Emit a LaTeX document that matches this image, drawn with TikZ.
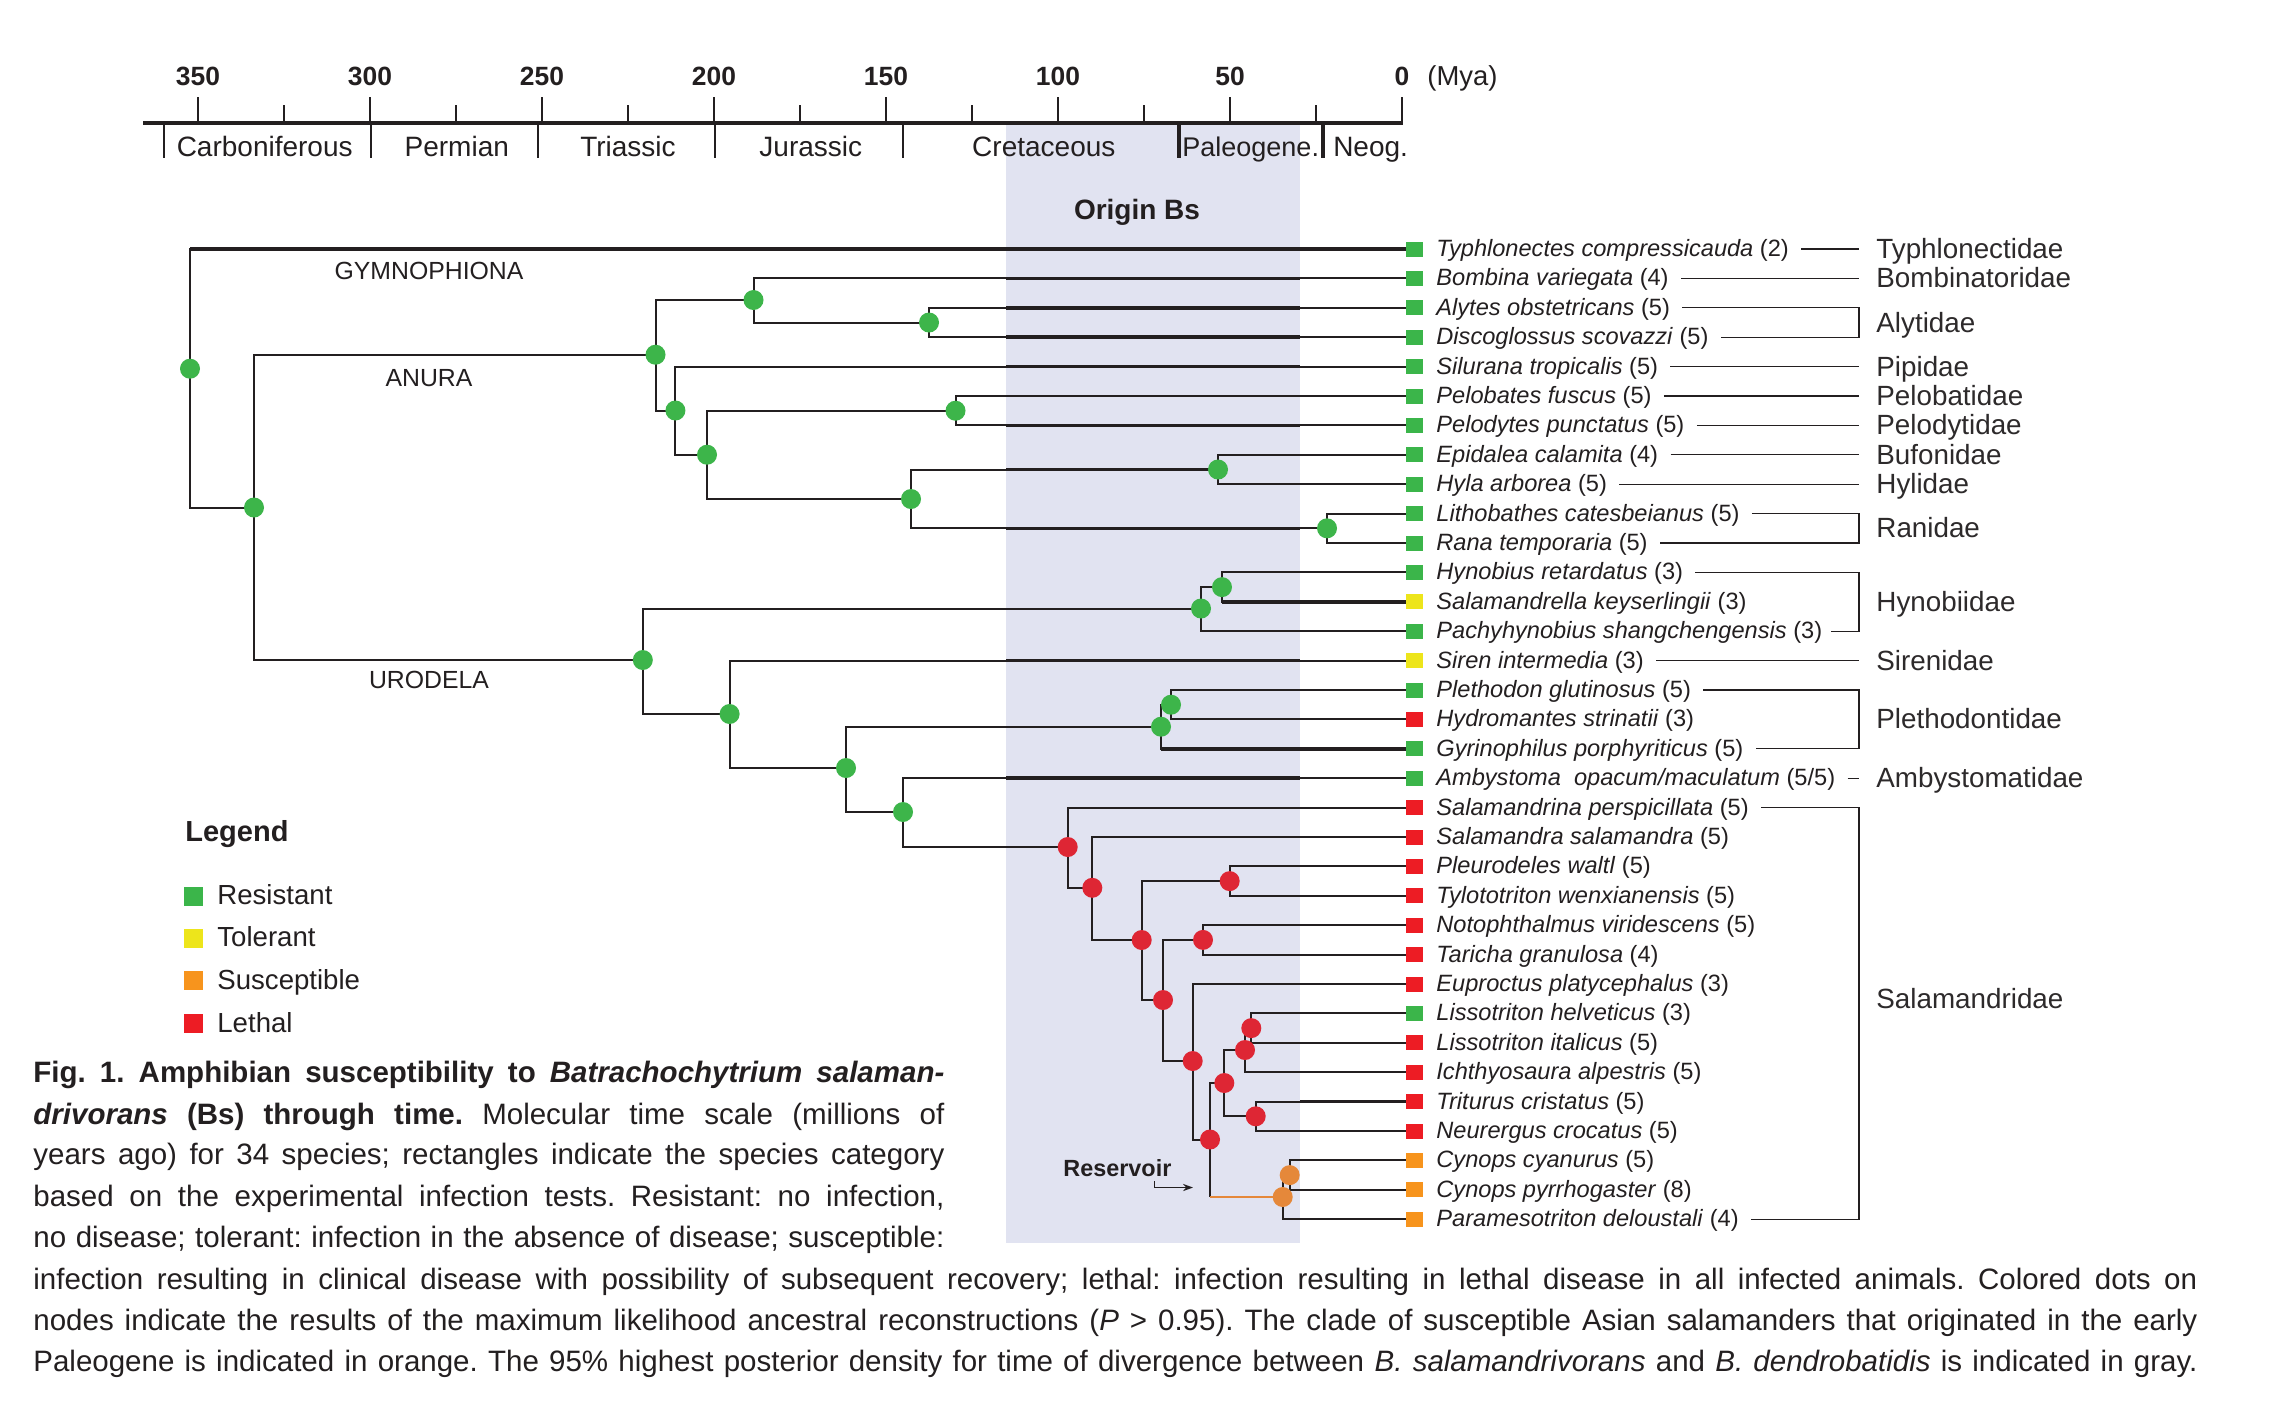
\documentclass[tikz,border=0pt]{standalone}
\usepackage{fontspec}
\setmainfont{Liberation Sans}
\usetikzlibrary{arrows.meta,calc}
\definecolor{bandc}{RGB}{225,227,241}
\definecolor{ink}{RGB}{35,31,32}
\definecolor{gsq}{RGB}{59,181,74}
\definecolor{ysq}{RGB}{237,229,27}
\definecolor{osq}{RGB}{247,148,29}
\definecolor{rsq}{RGB}{237,28,36}
\definecolor{gdotc}{RGB}{61,181,74}
\definecolor{rdotc}{RGB}{222,38,52}
\definecolor{odotc}{RGB}{229,136,58}
\definecolor{famc}{RGB}{45,42,43}
\newcommand\fs[1]{\fontsize{#1pt}{#1pt}\selectfont}
\newcommand\leaf[4]{\node[sq,fill=#3] (s#1) at (1414.5,#2) {};
  \node[sp] (t#1) at (1436,#2+7.5) {#4};}
\newcommand\famline[1]{\draw[fl] ($(t#1.east|-s#1)+(12,0)$) -- (fx|-s#1);}
\frenchspacing
\begin{document}
\begin{tikzpicture}[x=0.5pt,y=-0.5pt,
  br/.style={draw=ink,line width=1pt},
  thk/.style={draw=ink,line width=1.8pt},
  orl/.style={draw=odotc,line width=0.9pt},
  fl/.style={draw=ink,line width=0.65pt},
  tickl/.style={draw=ink,line width=1.3pt},
  dg/.style={circle,fill=gdotc,inner sep=0pt,minimum size=10pt},
  dr/.style={circle,fill=rdotc,inner sep=0pt,minimum size=10pt},
  do/.style={circle,fill=odotc,inner sep=0pt,minimum size=10pt},
  sq/.style={rectangle,inner sep=0pt,minimum width=8.5pt,minimum height=7.5pt},
  lsq/.style={rectangle,inner sep=0pt,minimum size=9.5pt},
  sp/.style={anchor=base west,inner sep=0pt,font=\fs{11.8},text=ink},
  fam/.style={anchor=base west,inner sep=0pt,font=\fs{13.9},text=famc},
  clade/.style={anchor=base,inner sep=0pt,font=\fs{12.4},text=ink},
  num/.style={anchor=base,inner sep=0pt,font=\fs{13.2}\bfseries,text=ink},
  per/.style={anchor=base,inner sep=0pt,font=\fs{14},text=ink},
  legt/.style={anchor=base west,inner sep=0pt,font=\fs{13.8},text=ink},
  capt/.style={anchor=base west,inner sep=0pt,font=\fs{14.75},text=ink}]
\fill[white] (0,0) rectangle (2279,1404);
\useasboundingbox (0,0) rectangle (2279,1404);
% band
\fill[bandc] (1006,125) rectangle (1300,1243);
\node[anchor=base,inner sep=0pt,font=\fs{14}\bfseries,text=ink] (origin) at (1137,219) {Origin Bs};
% axis
\draw[ink,line width=1.7pt] (143,123) -- (1403,123);
\foreach \t in {0,50,...,350}{
  \draw[tickl] ({1402-3.44*\t},97) -- ({1402-3.44*\t},123);
  \node[num] (n\t) at ({1402-3.44*\t},85) {\t};}
\foreach \t in {25,75,...,325}{
  \draw[tickl] ({1402-3.44*\t},105) -- ({1402-3.44*\t},123);}
\node[anchor=base west,inner sep=0pt,font=\fs{13.7},text=ink] (mya) at (1427,85) {(Mya)};
\foreach \x in {164,371,538,715,903}{\draw[tickl] (\x,123) -- (\x,158);}
\draw[ink,line width=2pt] (1179,123) -- (1179,158);
\draw[ink,line width=2pt] (1323,123) -- (1323,158);
\node[per] (pc) at (264.7,156.5) {Carboniferous};
\node[per] (pp) at (456.8,156.5) {Permian};
\node[per] (pt) at (628,156.5) {Triassic};
\node[per] (pj) at (810.8,156.5) {Jurassic};
\node[per] (pk) at (1043.8,156.5) {Cretaceous};
\node[per,anchor=base west,font=\fs{13.5}] (pg) at (1182,156.5) {Paleogene.};
\node[per] (pn) at (1370.6,156.5) {Neog.};
% leaves
\leaf{0}{249}{gsq}{\textit{Typhlonectes compressicauda} (2)}
\leaf{1}{278.4}{gsq}{\textit{Bombina variegata} (4)}
\leaf{2}{307.8}{gsq}{\textit{Alytes obstetricans} (5)}
\leaf{3}{337.2}{gsq}{\textit{Discoglossus scovazzi} (5)}
\leaf{4}{366.6}{gsq}{\textit{Silurana tropicalis} (5)}
\leaf{5}{396}{gsq}{\textit{Pelobates fuscus} (5)}
\leaf{6}{425.4}{gsq}{\textit{Pelodytes punctatus} (5)}
\leaf{7}{454.8}{gsq}{\textit{Epidalea calamita} (4)}
\leaf{8}{484.2}{gsq}{\textit{Hyla arborea} (5)}
\leaf{9}{513.6}{gsq}{\textit{Lithobathes catesbeianus} (5)}
\leaf{10}{543}{gsq}{\textit{Rana temporaria} (5)}
\leaf{11}{572.4}{gsq}{\textit{Hynobius retardatus} (3)}
\leaf{12}{601.8}{ysq}{\textit{Salamandrella keyserlingii} (3)}
\leaf{13}{631.2}{gsq}{\textit{Pachyhynobius shangchengensis} (3)}
\leaf{14}{660.6}{ysq}{\textit{Siren intermedia} (3)}
\leaf{15}{690}{gsq}{\textit{Plethodon glutinosus} (5)}
\leaf{16}{719.4}{rsq}{\textit{Hydromantes strinatii} (3)}
\leaf{17}{748.8}{gsq}{\textit{Gyrinophilus porphyriticus} (5)}
\leaf{18}{778.2}{gsq}{\textit{Ambystoma\ \ opacum/maculatum} (5/5)}
\leaf{19}{807.6}{rsq}{\textit{Salamandrina perspicillata} (5)}
\leaf{20}{837}{rsq}{\textit{Salamandra salamandra} (5)}
\leaf{21}{866.4}{rsq}{\textit{Pleurodeles waltl} (5)}
\leaf{22}{895.8}{rsq}{\textit{Tylototriton wenxianensis} (5)}
\leaf{23}{925.2}{rsq}{\textit{Notophthalmus viridescens} (5)}
\leaf{24}{954.6}{rsq}{\textit{Taricha granulosa} (4)}
\leaf{25}{984}{rsq}{\textit{Euproctus platycephalus} (3)}
\leaf{26}{1013.4}{gsq}{\textit{Lissotriton helveticus} (3)}
\leaf{27}{1042.8}{rsq}{\textit{Lissotriton italicus} (5)}
\leaf{28}{1072.2}{rsq}{\textit{Ichthyosaura alpestris} (5)}
\leaf{29}{1101.6}{rsq}{\textit{Triturus cristatus} (5)}
\leaf{30}{1131}{rsq}{\textit{Neurergus crocatus} (5)}
\leaf{31}{1160.4}{osq}{\textit{Cynops cyanurus} (5)}
\leaf{32}{1189.8}{osq}{\textit{Cynops pyrrhogaster} (8)}
\leaf{33}{1219.2}{osq}{\textit{Paramesotriton deloustali} (4)}
% families
\coordinate (fx) at (1859,0);
\foreach \i in {0,1,4,5,6,7,8,14,18}{\famline{\i}}
\draw[fl] ($(t2.east|-s2)+(12,0)$) -- (fx|-s2) -- (fx|-s3) -- ($(t3.east|-s3)+(12,0)$);
\draw[fl] ($(t9.east|-s9)+(12,0)$) -- (fx|-s9) -- (fx|-s10) -- ($(t10.east|-s10)+(12,0)$);
\draw[fl] ($(t11.east|-s11)+(12,0)$) -- (fx|-s11) -- (fx|-s13) -- ($(t13.east|-s13)+(8,0)$);
\draw[fl] ($(t15.east|-s15)+(12,0)$) -- (fx|-s15) -- (fx|-s17) -- ($(t17.east|-s17)+(12,0)$);
\draw[fl] ($(t19.east|-s19)+(12,0)$) -- (fx|-s19) -- (fx|-s33) -- ($(t33.east|-s33)+(12,0)$);
\node[fam] (f0) at (1876,258.5) {Typhlonectidae};
\node[fam] (f1) at (1876,287.9) {Bombinatoridae};
\node[fam] (f2) at (1876,332) {Alytidae};
\node[fam] (f4) at (1876,376.1) {Pipidae};
\node[fam] (f5) at (1876,405.5) {Pelobatidae};
\node[fam] (f6) at (1876,434.9) {Pelodytidae};
\node[fam] (f7) at (1876,464.3) {Bufonidae};
\node[fam] (f8) at (1876,493.7) {Hylidae};
\node[fam] (f9) at (1876,537.8) {Ranidae};
\node[fam] (f11) at (1876,611.3) {Hynobiidae};
\node[fam] (f14) at (1876,670.1) {Sirenidae};
\node[fam] (f15) at (1876,728.9) {Plethodontidae};
\node[fam] (f18) at (1876,787.7) {Ambystomatidae};
\node[fam] (f19) at (1876,1008) {Salamandridae};
% internal nodes
\coordinate (root) at (190,368.7);
\coordinate (batr) at (254,507.5);
\coordinate (anura) at (655.5,354.7);
\coordinate (a1) at (753.5,300);
\coordinate (aly) at (929,322.5);
\coordinate (a2) at (675.4,410.5);
\coordinate (a3) at (707,454.7);
\coordinate (pel) at (955.5,410.7);
\coordinate (a4) at (911,499);
\coordinate (buf) at (1218,469.5);
\coordinate (ran) at (1327,528.3);
\coordinate (uro) at (642.8,660);
\coordinate (hyn) at (1201,608.5);
\coordinate (h1) at (1222,587.1);
\coordinate (u1) at (729.6,714);
\coordinate (u2) at (846,768);
\coordinate (pl) at (1161,726.7);
\coordinate (p1) at (1171,704.7);
\coordinate (u3) at (903,812);
\coordinate (sal) at (1067.7,847);
\coordinate (sa1) at (1092.3,887.8);
\coordinate (sa2) at (1141.7,940);
\coordinate (sa3) at (1229.7,881.1);
\coordinate (sa4) at (1163,1000);
\coordinate (sa5) at (1203,939.9);
\coordinate (sa6) at (1192.7,1061);
\coordinate (sa7) at (1210,1139.5);
\coordinate (sa8) at (1224.3,1083);
\coordinate (sa9) at (1245,1050);
\coordinate (lis) at (1251.3,1028.1);
\coordinate (sa10) at (1255.7,1116.3);
\coordinate (o1) at (1282.7,1197);
\coordinate (o2) at (1289.7,1175.1);
% edges
\draw[br] (root) |- (s0.west);
\draw[thk] (root|-s0) -- (s0.west);
\draw[br] (root) |- (batr);
\draw[br] (batr) |- (anura) (batr) |- (uro);
\draw[br] (anura) |- (a1) (anura) |- (a2);
\draw[br] (a1) |- (s1.west) (a1) |- (aly);
\draw[br] (aly) |- (s2.west) (aly) |- (s3.west);
\draw[br] (a2) |- (s4.west) (a2) |- (a3);
\draw[br] (a3) |- (pel) (a3) |- (a4);
\draw[br] (pel) |- (s5.west) (pel) |- (s6.west);
\draw[br] (a4) |- (buf) (a4) |- (ran);
\draw[br] (buf) |- (s7.west) (buf) |- (s8.west);
\draw[br] (ran) |- (s9.west) (ran) |- (s10.west);
\draw[br] (uro) |- (hyn) (uro) |- (u1);
\draw[br] (hyn) |- (h1) (hyn) |- (s13.west);
\draw[br] (h1) |- (s11.west) (h1) |- (s12.west);
\draw[br] (u1) |- (s14.west) (u1) |- (u2);
\draw[br] (u2) |- (pl) (u2) |- (u3);
\draw[br] (pl) |- (p1) (pl) |- (s17.west);
\draw[br] (p1) |- (s15.west) (p1) |- (s16.west);
\draw[br] (u3) |- (s18.west) (u3) |- (sal);
\draw[br] (sal) |- (s19.west) (sal) |- (sa1);
\draw[br] (sa1) |- (s20.west) (sa1) |- (sa2);
\draw[br] (sa2) |- (sa3) (sa2) |- (sa4);
\draw[br] (sa3) |- (s21.west) (sa3) |- (s22.west);
\draw[br] (sa4) |- (sa5) (sa4) |- (sa6);
\draw[br] (sa5) |- (s23.west) (sa5) |- (s24.west);
\draw[br] (sa6) |- (s25.west) (sa6) |- (sa7);
\draw[br] (sa7) |- (sa8) (sa7) -- (sa7|-o1);
\draw[orl] (sa7|-o1) -- (o1);
\draw[br] (sa8) |- (sa9) (sa8) |- (sa10);
\draw[br] (sa9) |- (lis) (sa9) |- (s28.west);
\draw[br] (lis) |- (s26.west) (lis) |- (s27.west);
\draw[br] (sa10) |- (s29.west) (sa10) |- (s30.west);
\draw[br] (o1) |- (o2) (o1) |- (s33.west);
\draw[br] (o2) |- (s31.west) (o2) |- (s32.west);
% heavier segments
\foreach \y in {278.4,307.8,337.2,366.6,425.4,528.3,660.6,778.2}{\draw[thk] (1006,\y) -- (1300,\y);}
\draw[thk] (1006,469.5) -- (buf);
\draw[thk] (h1|-s12) -- (s12.west);
\draw[thk] (pl|-s17) -- (s17.west);
\draw[thk] (1300,1101.6) -- (s29.west);
% dots
\foreach \c in {root,batr,anura,a1,aly,a2,a3,pel,a4,buf,ran,uro,hyn,h1,u1,u2,pl,p1,u3}{\node[dg] (d-\c) at (\c) {};}
\foreach \c in {sal,sa1,sa2,sa3,sa4,sa5,sa6,sa7,sa8,sa9,lis,sa10}{\node[dr] (d-\c) at (\c) {};}
\node[do] (d-o1) at (o1) {};
\node[do] (d-o2) at (o2) {};
% clade labels
\node[clade] (gym) at (429,279) {GYMNOPHIONA};
\node[clade] (anu) at (429,386.6) {ANURA};
\node[clade] (urod) at (429,688) {URODELA};
% reservoir
\node[anchor=base west,inner sep=0pt,font=\fs{11.7}\bfseries,text=ink] (res) at (1063,1176) {Reservoir};
\coordinate (ra) at (1154.3,1181);
\coordinate (rb) at (1193,1187.5);
\draw[ink,line width=0.7pt,-{Stealth[length=5pt,width=3.6pt]}] (ra) |- (rb);
% legend
\node[anchor=base west,inner sep=0pt,font=\fs{14.5}\bfseries,text=ink] (leg) at (185,841) {Legend};
\node[lsq,fill=gsq] (lq1) at (193.5,896.5) {};
\node[lsq,fill=ysq] (lq2) at (193.5,938.5) {};
\node[lsq,fill=osq] (lq3) at (193.5,980.5) {};
\node[lsq,fill=rsq] (lq4) at (193.5,1023.5) {};
\node[legt] (lt1) at (217,904) {Resistant};
\node[legt] (lt2) at (217,946.7) {Tolerant};
\node[legt] (lt3) at (217,989.3) {Susceptible};
\node[legt] (lt4) at (217,1032.3) {Lethal};
% caption
\node[capt] (cap1) at (33,1082) {\makebox[455.5pt][s]{\bfseries Fig. 1. Amphibian susceptibility to \textit{Batrachochytrium salaman-}}};
\node[capt] (cap2) at (33,1124) {\makebox[455.5pt][s]{\textbf{\textit{drivorans} (Bs) through time.} Molecular time scale (millions of}};
\node[capt] (cap3) at (33,1164.5) {\makebox[455.5pt][s]{years ago) for 34 species; rectangles indicate the species category}};
\node[capt] (cap4) at (33,1206) {\makebox[455.5pt][s]{based on the experimental infection tests. Resistant: no infection,}};
\node[capt] (cap5) at (33,1247.5) {\makebox[455.5pt][s]{no disease; tolerant: infection in the absence of disease; susceptible:}};
\node[capt] (cap6) at (33,1289) {\makebox[1082pt][s]{infection resulting in clinical disease with possibility of subsequent recovery; lethal: infection resulting in lethal disease in all infected animals. Colored dots on}};
\node[capt] (cap7) at (33,1330.5) {\makebox[1082pt][s]{nodes indicate the results of the maximum likelihood ancestral reconstructions (\textit{P} > 0.95). The clade of susceptible Asian salamanders that originated in the early}};
\node[capt] (cap8) at (33,1371) {\makebox[1082pt][s]{Paleogene is indicated in orange. The 95\% highest posterior density for time of divergence between \textit{B. salamandrivorans} and \textit{B. dendrobatidis} is indicated in gray.}};
\end{tikzpicture}
\end{document}
